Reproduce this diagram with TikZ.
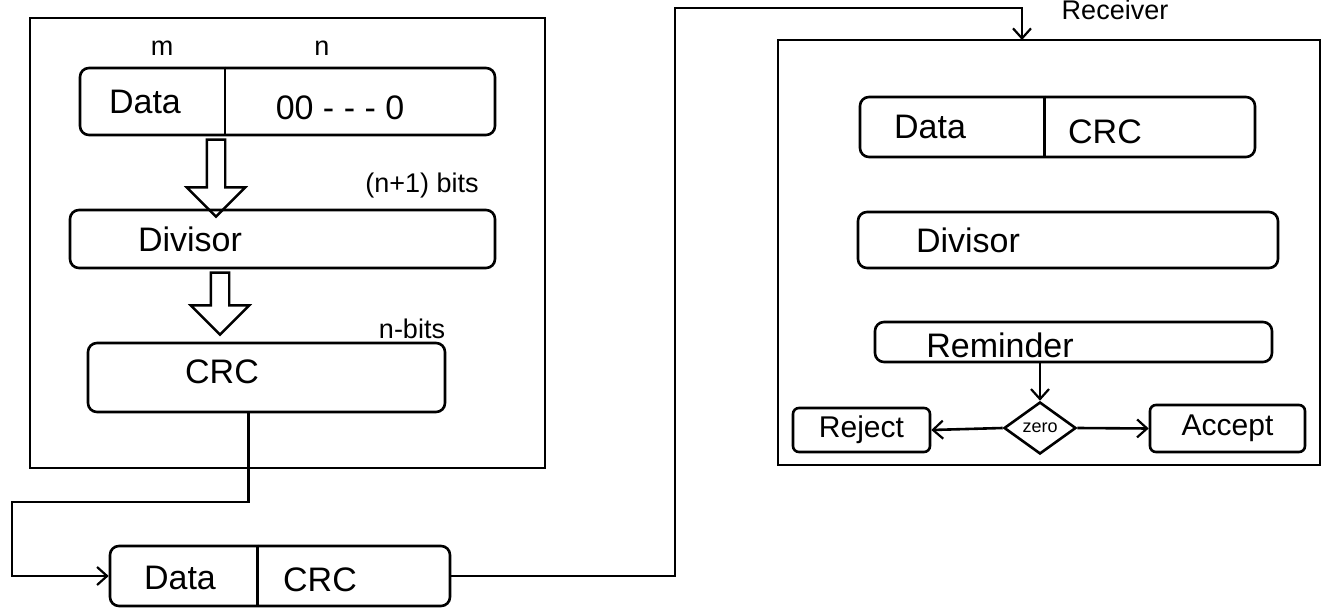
\documentclass[tikz,border=0pt]{standalone}
\usepackage{fontspec}
\setmainfont{Liberation Sans}
\usetikzlibrary{calc,arrows.meta,shapes.geometric,shapes.arrows}
\begin{document}
\begin{tikzpicture}[x=1pt,y=-1pt,line width=2.6pt,
  box/.style={draw,rounded corners=9pt,inner sep=0pt},
  blockarr/.style={draw,single arrow,rotate=-90,inner sep=8pt,single arrow head extend=20pt,line width=2.4pt},
  txt/.style={font=\fontsize{34}{38}\selectfont,inner sep=0pt},
  small/.style={font=\fontsize{27}{30}\selectfont,inner sep=0pt},
  arr/.style={-{Straight Barb[length=10pt,width=18pt,line width=2.2pt]}}]
\useasboundingbox (0,0) rectangle (1329,609);

% sender
\node[draw,minimum width=515pt,minimum height=450pt,inner sep=0pt] (snd) at (287.5,243) {};
\node[box,minimum width=415pt,minimum height=67pt] (dz) at (287.5,101.5) {};
\draw ($(dz.north west)!0.35!(dz.north east)$) -- ($(dz.south west)!0.35!(dz.south east)$);
\node[small] (lm) at (162,48) {m};
\node[small] (ln) at (322,48) {n};
\node[txt] (tdata1) at (145,102) {Data};
\node[txt] (tzero) at (340,108) {00 - - - 0};
\node[box,minimum width=425pt,minimum height=58pt] (dv) at (282.5,239) {};
\node[txt] (tdiv1) at (190,239) {Divisor};
\node[small] (lbits) at (422,186) {(n+1) bits};
\node[blockarr,minimum height=77pt] (ar1) at (216,173.5) {};
\node[box,minimum width=357pt,minimum height=69pt] (crc) at (266.5,377.5) {};
\node[txt] (tcrc1) at (222,372) {CRC};
\node[small] (lnbits) at (412,329) {n-bits};
\node[blockarr,minimum height=62pt] (ar2) at (220,299) {};

% transmitted frame
\node[box,minimum width=340pt,minimum height=60pt] (dc) at (280,576) {};
\draw ($(dc.north west)!0.435!(dc.north east)$) -- ($(dc.south west)!0.435!(dc.south east)$);
\node[txt] (tdata2) at (180,578) {Data};
\node[txt] (tcrc2) at (320,580) {CRC};
\coordinate (c1) at ($(crc.south west)!0.45!(crc.south east)$);
\coordinate (bl) at (12,502);
\draw[arr] (c1) |- (bl) |- (dc.west);
\coordinate (tr) at (675,8);
\coordinate (rin) at (1022,40);
\draw[arr] (dc.east) -| (tr) -| (rin);

% receiver
\node[small] (lrcv) at (1115,10) {Receiver};
\node[draw,minimum width=542pt,minimum height=425pt,inner sep=0pt] (rcv) at (1049,252.5) {};
\node[box,minimum width=395pt,minimum height=60pt] (rdc) at (1057.5,127) {};
\draw ($(rdc.north west)!0.468!(rdc.north east)$) -- ($(rdc.south west)!0.468!(rdc.south east)$);
\node[txt] (tdata3) at (930,127) {Data};
\node[txt] (tcrc3) at (1105,132) {CRC};
\node[box,minimum width=420pt,minimum height=56pt] (rdv) at (1068,240) {};
\node[txt] (tdiv2) at (968,240) {Divisor};
\node[box,minimum width=397pt,minimum height=40pt] (rem) at (1073.5,342) {};
\node[txt] (trem) at (1000,345) {Reminder};
\node[draw,diamond,minimum width=72pt,minimum height=52pt,inner sep=0pt,font=\fontsize{18}{20}\selectfont] (zero) at (1040,428) {zero};
\node[box,rounded corners=6pt,minimum width=137pt,minimum height=44pt,font=\fontsize{30}{34}\selectfont] (rej) at (861.5,430) {Reject};
\node[box,rounded corners=6pt,minimum width=155pt,minimum height=47pt,font=\fontsize{30}{34}\selectfont] (acc) at (1227.5,428.5) {Accept};
\draw[arr] (zero.north |- rem.south) -- (zero.north);
\draw[arr] (zero.west) -- (rej.east);
\draw[arr] (zero.east) -- (acc.west);
\end{tikzpicture}
\end{document}
